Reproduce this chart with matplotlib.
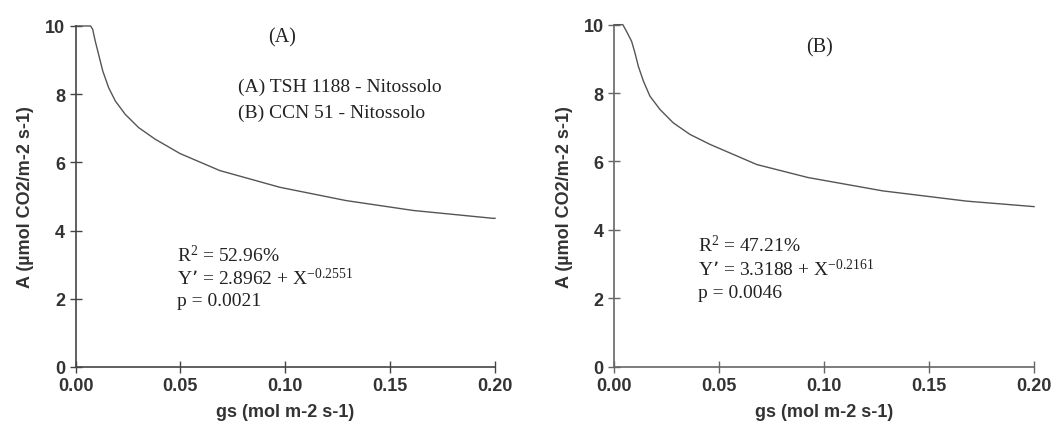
import numpy as np
import matplotlib
matplotlib.use("Agg")
import matplotlib.pyplot as plt

plt.rcParams['font.family'] = ['Liberation Sans', 'DejaVu Sans']
plt.rcParams['mathtext.default'] = 'regular'

# values
gs_a = [0.0, 0.0072, 0.0082, 0.0094, 0.0110, 0.0130, 0.0158, 0.0190, 0.0237,
        0.0301, 0.0380, 0.0498, 0.0688, 0.0974, 0.129, 0.161, 0.199, 0.2]
A_a = [10.0, 10.0, 9.90, 9.56, 9.17, 8.68, 8.19, 7.80, 7.41,
       7.02, 6.68, 6.26, 5.76, 5.27, 4.88, 4.59, 4.36, 4.36]

gs_b = [0.0, 0.0042, 0.0060, 0.0084, 0.0100, 0.0116, 0.0140, 0.0171, 0.0219,
        0.0282, 0.0362, 0.0457, 0.068, 0.0924, 0.128, 0.168, 0.2]
A_b = [10.0, 10.0, 9.80, 9.51, 9.17, 8.78, 8.35, 7.91, 7.52,
       7.13, 6.79, 6.50, 5.91, 5.53, 5.14, 4.84, 4.68]

x_ticks = [0.0, 0.05, 0.10, 0.15, 0.20]
y_ticks = [0, 2, 4, 6, 8, 10]

panels = [
    dict(gs=gs_a, A=A_a, pos=[0.0717, 0.1382, 0.3984, 0.7986], axcol='#444444',
         title='(A)', title_xy=(0.0983, 9.68),
         stats=['R$^{2}$ = 52.96%', 'Y\u2019 = 2.8962 + X$^{-0.2551}$', 'p = 0.0021'],
         stats_x=0.0483, stats_y=[3.31, 2.61, 1.94],
         legend=['(A) TSH 1188 - Nitossolo', '(B) CCN 51 - Nitossolo']),
    dict(gs=gs_b, A=A_b, pos=[0.5831, 0.1389, 0.3989, 0.8010], axcol='#666666',
         title='(B)', title_xy=(0.098, 9.36),
         stats=['R$^{2}$ = 47.21%', 'Y\u2019 = 3.3188 + X$^{-0.2161}$', 'p = 0.0046'],
         stats_x=0.040, stats_y=[3.58, 2.88, 2.18],
         legend=None),
]

serif = ['Liberation Serif', 'DejaVu Serif']

fig = plt.figure(figsize=(10.53, 4.27), dpi=100)

for p in panels:
    ax = fig.add_axes(p['pos'])
    ax.plot(p['gs'], p['A'], color='#555555', lw=1.0, clip_on=False)
    ax.set_xlim(0, 0.2)
    ax.set_ylim(0, 10)
    ax.set_xticks(x_ticks)
    ax.set_xticklabels(['%.2f' % t for t in x_ticks])
    ax.set_yticks(y_ticks)
    for s in ['top', 'right']:
        ax.spines[s].set_visible(False)
    for s in ['left', 'bottom']:
        ax.spines[s].set_color(p['axcol'])
        ax.spines[s].set_linewidth(1.2)
    ax.tick_params(direction='inout', length=9, width=1.0, color=p['axcol'],
                   labelsize=13, labelcolor='#333333', pad=3)
    for lab in ax.get_xticklabels() + ax.get_yticklabels():
        lab.set_fontweight('bold')
    ax.set_xlabel('gs (mol m-2 s-1)', fontsize=13, fontweight='bold', color='#333333')
    ax.set_ylabel('A (\u00b5mol CO2/m-2 s-1)', fontsize=13, fontweight='bold', color='#333333')
    ax.xaxis.set_label_coords(0.5, -0.105)
    ax.yaxis.set_label_coords(-0.098, 0.5)

    ax.text(p['title_xy'][0], p['title_xy'][1], p['title'], family=serif,
            fontsize=14.5, ha='center', va='center', color='#222222')
    if p['legend']:
        ax.text(0.0774, 8.24, p['legend'][0], family=serif, fontsize=14,
                ha='left', va='center', color='#222222')
        ax.text(0.0774, 7.48, p['legend'][1], family=serif, fontsize=14,
                ha='left', va='center', color='#222222')
    for txt, yy in zip(p['stats'], p['stats_y']):
        ax.text(p['stats_x'], yy, txt, family=serif, fontsize=14,
                ha='left', va='center', color='#222222')

fig.savefig('out.png', dpi=100)
